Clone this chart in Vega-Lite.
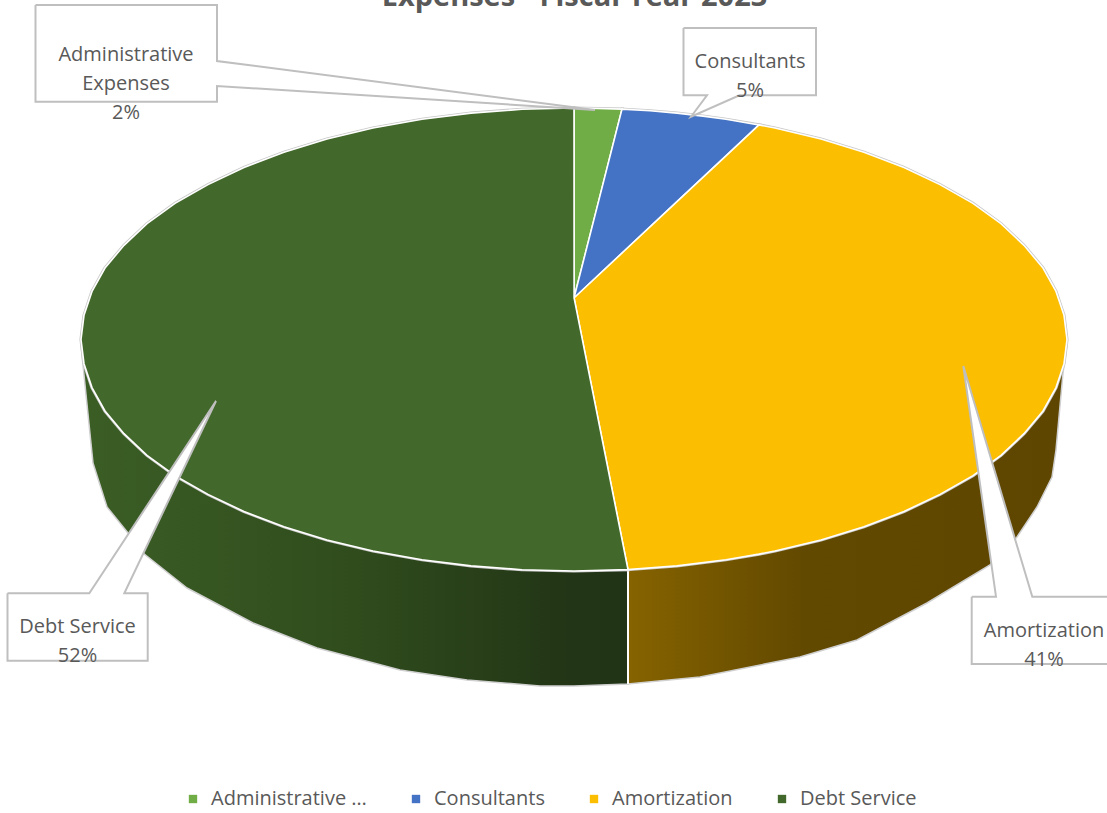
{"$schema":"https://vega.github.io/schema/vega-lite/v6.json","width":1107,"height":813,"padding":0,"autosize":{"type":"none"},"background":"white","config":{"view":{"stroke":null},"font":"Open Sans"},
"title":{"text":"Expenses - Fiscal Year 2023","anchor":"middle","dx":21,"offset":-12,"fontSize":29,"fontWeight":"bold","color":"#595959","font":"Open Sans"},
"datasets":{
"walls":[
{"part":"Debt Service","x":81,"y":340,"y2":345},{"part":"Debt Service","x":84,"y":340,"y2":375},{"part":"Debt Service","x":93,"y":340,"y2":463},{"part":"Debt Service","x":107,"y":340,"y2":507},{"part":"Debt Service","x":128,"y":340,"y2":533},{"part":"Debt Service","x":143,"y":340,"y2":553},{"part":"Debt Service","x":187,"y":340,"y2":588},{"part":"Debt Service","x":253,"y":340,"y2":623},{"part":"Debt Service","x":317,"y":340,"y2":648},{"part":"Debt Service","x":400,"y":340,"y2":670},{"part":"Debt Service","x":467,"y":340,"y2":680},{"part":"Debt Service","x":540,"y":340,"y2":686},{"part":"Debt Service","x":574,"y":340,"y2":686},{"part":"Debt Service","x":628,"y":340,"y2":684},
{"part":"Amortization","x":628,"y":340,"y2":684},{"part":"Amortization","x":700,"y":340,"y2":677},{"part":"Amortization","x":800,"y":340,"y2":657},{"part":"Amortization","x":857,"y":340,"y2":640},{"part":"Amortization","x":927,"y":340,"y2":603},{"part":"Amortization","x":990,"y":340,"y2":565},{"part":"Amortization","x":1017,"y":340,"y2":537},{"part":"Amortization","x":1037,"y":340,"y2":507},{"part":"Amortization","x":1052,"y":340,"y2":477},{"part":"Amortization","x":1056,"y":340,"y2":450},{"part":"Amortization","x":1063,"y":340,"y2":373},{"part":"Amortization","x":1067,"y":340,"y2":345}],
"top":[
{"category":"Administrative Expenses","x":574,"y":108,"y2":298},{"category":"Administrative Expenses","x":598,"y":108.5,"y2":204},{"category":"Administrative Expenses","x":622,"y":109.1,"y2":109.1},
{"category":"Consultants","x":574,"y":298,"y2":298},{"category":"Consultants","x":622,"y":109.1,"y2":253.1},{"category":"Consultants","x":650,"y":110.8,"y2":226.9},{"category":"Consultants","x":677,"y":113.1,"y2":201.7},{"category":"Consultants","x":703,"y":116.1,"y2":177.4},{"category":"Consultants","x":726,"y":119.3,"y2":155.9},{"category":"Consultants","x":759,"y":124.9,"y2":124.9},
{"category":"Amortization","x":574,"y":298,"y2":298},{"category":"Amortization","x":628,"y":247.5,"y2":569.6},{"category":"Amortization","x":677,"y":201.7,"y2":565.9},{"category":"Amortization","x":726,"y":155.9,"y2":559.7},{"category":"Amortization","x":759,"y":124.9,"y2":554.1},{"category":"Amortization","x":775,"y":128,"y2":551},{"category":"Amortization","x":821,"y":139,"y2":540},{"category":"Amortization","x":864,"y":152.2,"y2":526.8},{"category":"Amortization","x":904,"y":167.5,"y2":511.5},{"category":"Amortization","x":940,"y":184.6,"y2":494.4},{"category":"Amortization","x":973,"y":203.4,"y2":475.6},{"category":"Amortization","x":1001,"y":223.7,"y2":455.3},{"category":"Amortization","x":1024,"y":245.3,"y2":433.7},{"category":"Amortization","x":1043,"y":268,"y2":411},{"category":"Amortization","x":1056,"y":291.4,"y2":387.6},{"category":"Amortization","x":1064,"y":315.3,"y2":363.7},{"category":"Amortization","x":1067,"y":339.5,"y2":339.5},
{"category":"Debt Service","x":81,"y":339.5,"y2":339.5},{"category":"Debt Service","x":84,"y":315.3,"y2":363.7},{"category":"Debt Service","x":92,"y":291.4,"y2":387.6},{"category":"Debt Service","x":105,"y":268,"y2":411},{"category":"Debt Service","x":124,"y":245.3,"y2":433.7},{"category":"Debt Service","x":147,"y":223.7,"y2":455.3},{"category":"Debt Service","x":175,"y":203.4,"y2":475.6},{"category":"Debt Service","x":208,"y":184.6,"y2":494.4},{"category":"Debt Service","x":244,"y":167.5,"y2":511.5},{"category":"Debt Service","x":284,"y":152.2,"y2":526.8},{"category":"Debt Service","x":327,"y":139,"y2":540},{"category":"Debt Service","x":373,"y":128,"y2":551},{"category":"Debt Service","x":422,"y":119.3,"y2":559.7},{"category":"Debt Service","x":471,"y":113.1,"y2":565.9},{"category":"Debt Service","x":522,"y":109.3,"y2":569.7},{"category":"Debt Service","x":574,"y":108,"y2":571},{"category":"Debt Service","x":574.1,"y":298,"y2":571},{"category":"Debt Service","x":628,"y":569.6,"y2":569.6}],
"callouts":[
{"c":"Administrative Expenses","i":1,"x":35.5,"y":5},{"c":"Administrative Expenses","i":2,"x":217,"y":5},{"c":"Administrative Expenses","i":3,"x":217,"y":61},{"c":"Administrative Expenses","i":4,"x":595,"y":110},{"c":"Administrative Expenses","i":5,"x":217,"y":86},{"c":"Administrative Expenses","i":6,"x":217,"y":101.7},{"c":"Administrative Expenses","i":7,"x":35.5,"y":101.7},{"c":"Administrative Expenses","i":8,"x":35.5,"y":5},
{"c":"Consultants","i":1,"x":683.5,"y":28},{"c":"Consultants","i":2,"x":816,"y":28},{"c":"Consultants","i":3,"x":816,"y":95.3},{"c":"Consultants","i":4,"x":739.5,"y":95.3},{"c":"Consultants","i":5,"x":691,"y":116.7},{"c":"Consultants","i":6,"x":707,"y":95.3},{"c":"Consultants","i":7,"x":683.5,"y":95.3},{"c":"Consultants","i":8,"x":683.5,"y":28},
{"c":"Debt Service","i":1,"x":7.5,"y":593.3},{"c":"Debt Service","i":2,"x":89.3,"y":593.3},{"c":"Debt Service","i":3,"x":216,"y":401},{"c":"Debt Service","i":4,"x":124.3,"y":593.3},{"c":"Debt Service","i":5,"x":147.7,"y":593.3},{"c":"Debt Service","i":6,"x":147.7,"y":660.7},{"c":"Debt Service","i":7,"x":7.5,"y":660.7},{"c":"Debt Service","i":8,"x":7.5,"y":593.3},
{"c":"Amortization","i":1,"x":971.7,"y":596.7},{"c":"Amortization","i":2,"x":996,"y":596.7},{"c":"Amortization","i":3,"x":963.3,"y":366},{"c":"Amortization","i":4,"x":1032.3,"y":596.7},{"c":"Amortization","i":5,"x":1120,"y":596.7},{"c":"Amortization","i":6,"x":1120,"y":664},{"c":"Amortization","i":7,"x":971.7,"y":664},{"c":"Amortization","i":8,"x":971.7,"y":596.7}],
"labels":[
{"label":"Administrative\nExpenses\n2%","x":126,"y":55},
{"label":"Consultants\n5%","x":750,"y":62},
{"label":"Debt Service\n52%","x":77.5,"y":627},
{"label":"Amortization\n41%","x":1044,"y":631}],
"seam":[{"x":628,"y":570,"y2":684}]
},
"encoding":{
"x":{"field":"x","type":"quantitative","scale":{"domain":[0,1107],"nice":false,"zero":false},"axis":null},
"y":{"field":"y","type":"quantitative","scale":{"domain":[813,0],"nice":false,"zero":false},"axis":null}},
"layer":[
{"data":{"name":"walls"},"transform":[{"filter":"datum.part==='Debt Service'"}],"mark":{"type":"area","stroke":"#d0d0d0","strokeWidth":1.5,"line":false,"color":{"gradient":"linear","x1":0,"y1":0,"x2":1,"y2":0,"stops":[{"offset":0,"color":"#3B5E25"},{"offset":0.5,"color":"#304C1D"},{"offset":0.9,"color":"#223516"},{"offset":1,"color":"#213416"}]}},"encoding":{"y2":{"field":"y2"}}},
{"data":{"name":"walls"},"transform":[{"filter":"datum.part==='Amortization'"}],"mark":{"type":"area","stroke":"#d0d0d0","strokeWidth":1.5,"line":false,"color":{"gradient":"linear","x1":0,"y1":0,"x2":1,"y2":0,"stops":[{"offset":0,"color":"#866300"},{"offset":0.4,"color":"#624900"},{"offset":1,"color":"#5F4600"}]}},"encoding":{"y2":{"field":"y2"}}},
{"data":{"name":"seam"},"mark":{"type":"rule","color":"white","strokeWidth":2},"encoding":{"y2":{"field":"y2"}}},
{"data":{"name":"top"},"mark":{"type":"area","color":"#ffffff","stroke":"#c8c8c8","strokeWidth":3.2},"encoding":{"y2":{"field":"y2"},"detail":{"field":"category"}}},
{"data":{"name":"top"},"mark":{"type":"area","stroke":"white","strokeWidth":1.6},"encoding":{"y2":{"field":"y2"},"color":{"field":"category","type":"nominal","scale":{"domain":["Administrative Expenses","Consultants","Amortization","Debt Service"],"range":["#70AD47","#4472C4","#FBBE00","#43682B"]},"legend":{"title":null,"orient":"none","legendX":183,"legendY":789,"direction":"horizontal","columns":4,"symbolType":"square","symbolSize":70,"symbolStrokeWidth":0,"labelFontSize":20,"labelColor":"#595959","labelFont":"Open Sans","columnPadding":39,"labelOffset":8}}}},
{"data":{"name":"callouts"},"mark":{"type":"line","fill":"white","stroke":"#BFBFBF","strokeWidth":2},"encoding":{"detail":{"field":"c"},"order":{"field":"i","type":"quantitative"}}},
{"data":{"name":"labels"},"mark":{"type":"text","lineBreak":"\n","fontSize":20,"lineHeight":29,"color":"#595959","font":"Open Sans","align":"center","baseline":"middle"},"encoding":{"text":{"field":"label"}}}
]}
